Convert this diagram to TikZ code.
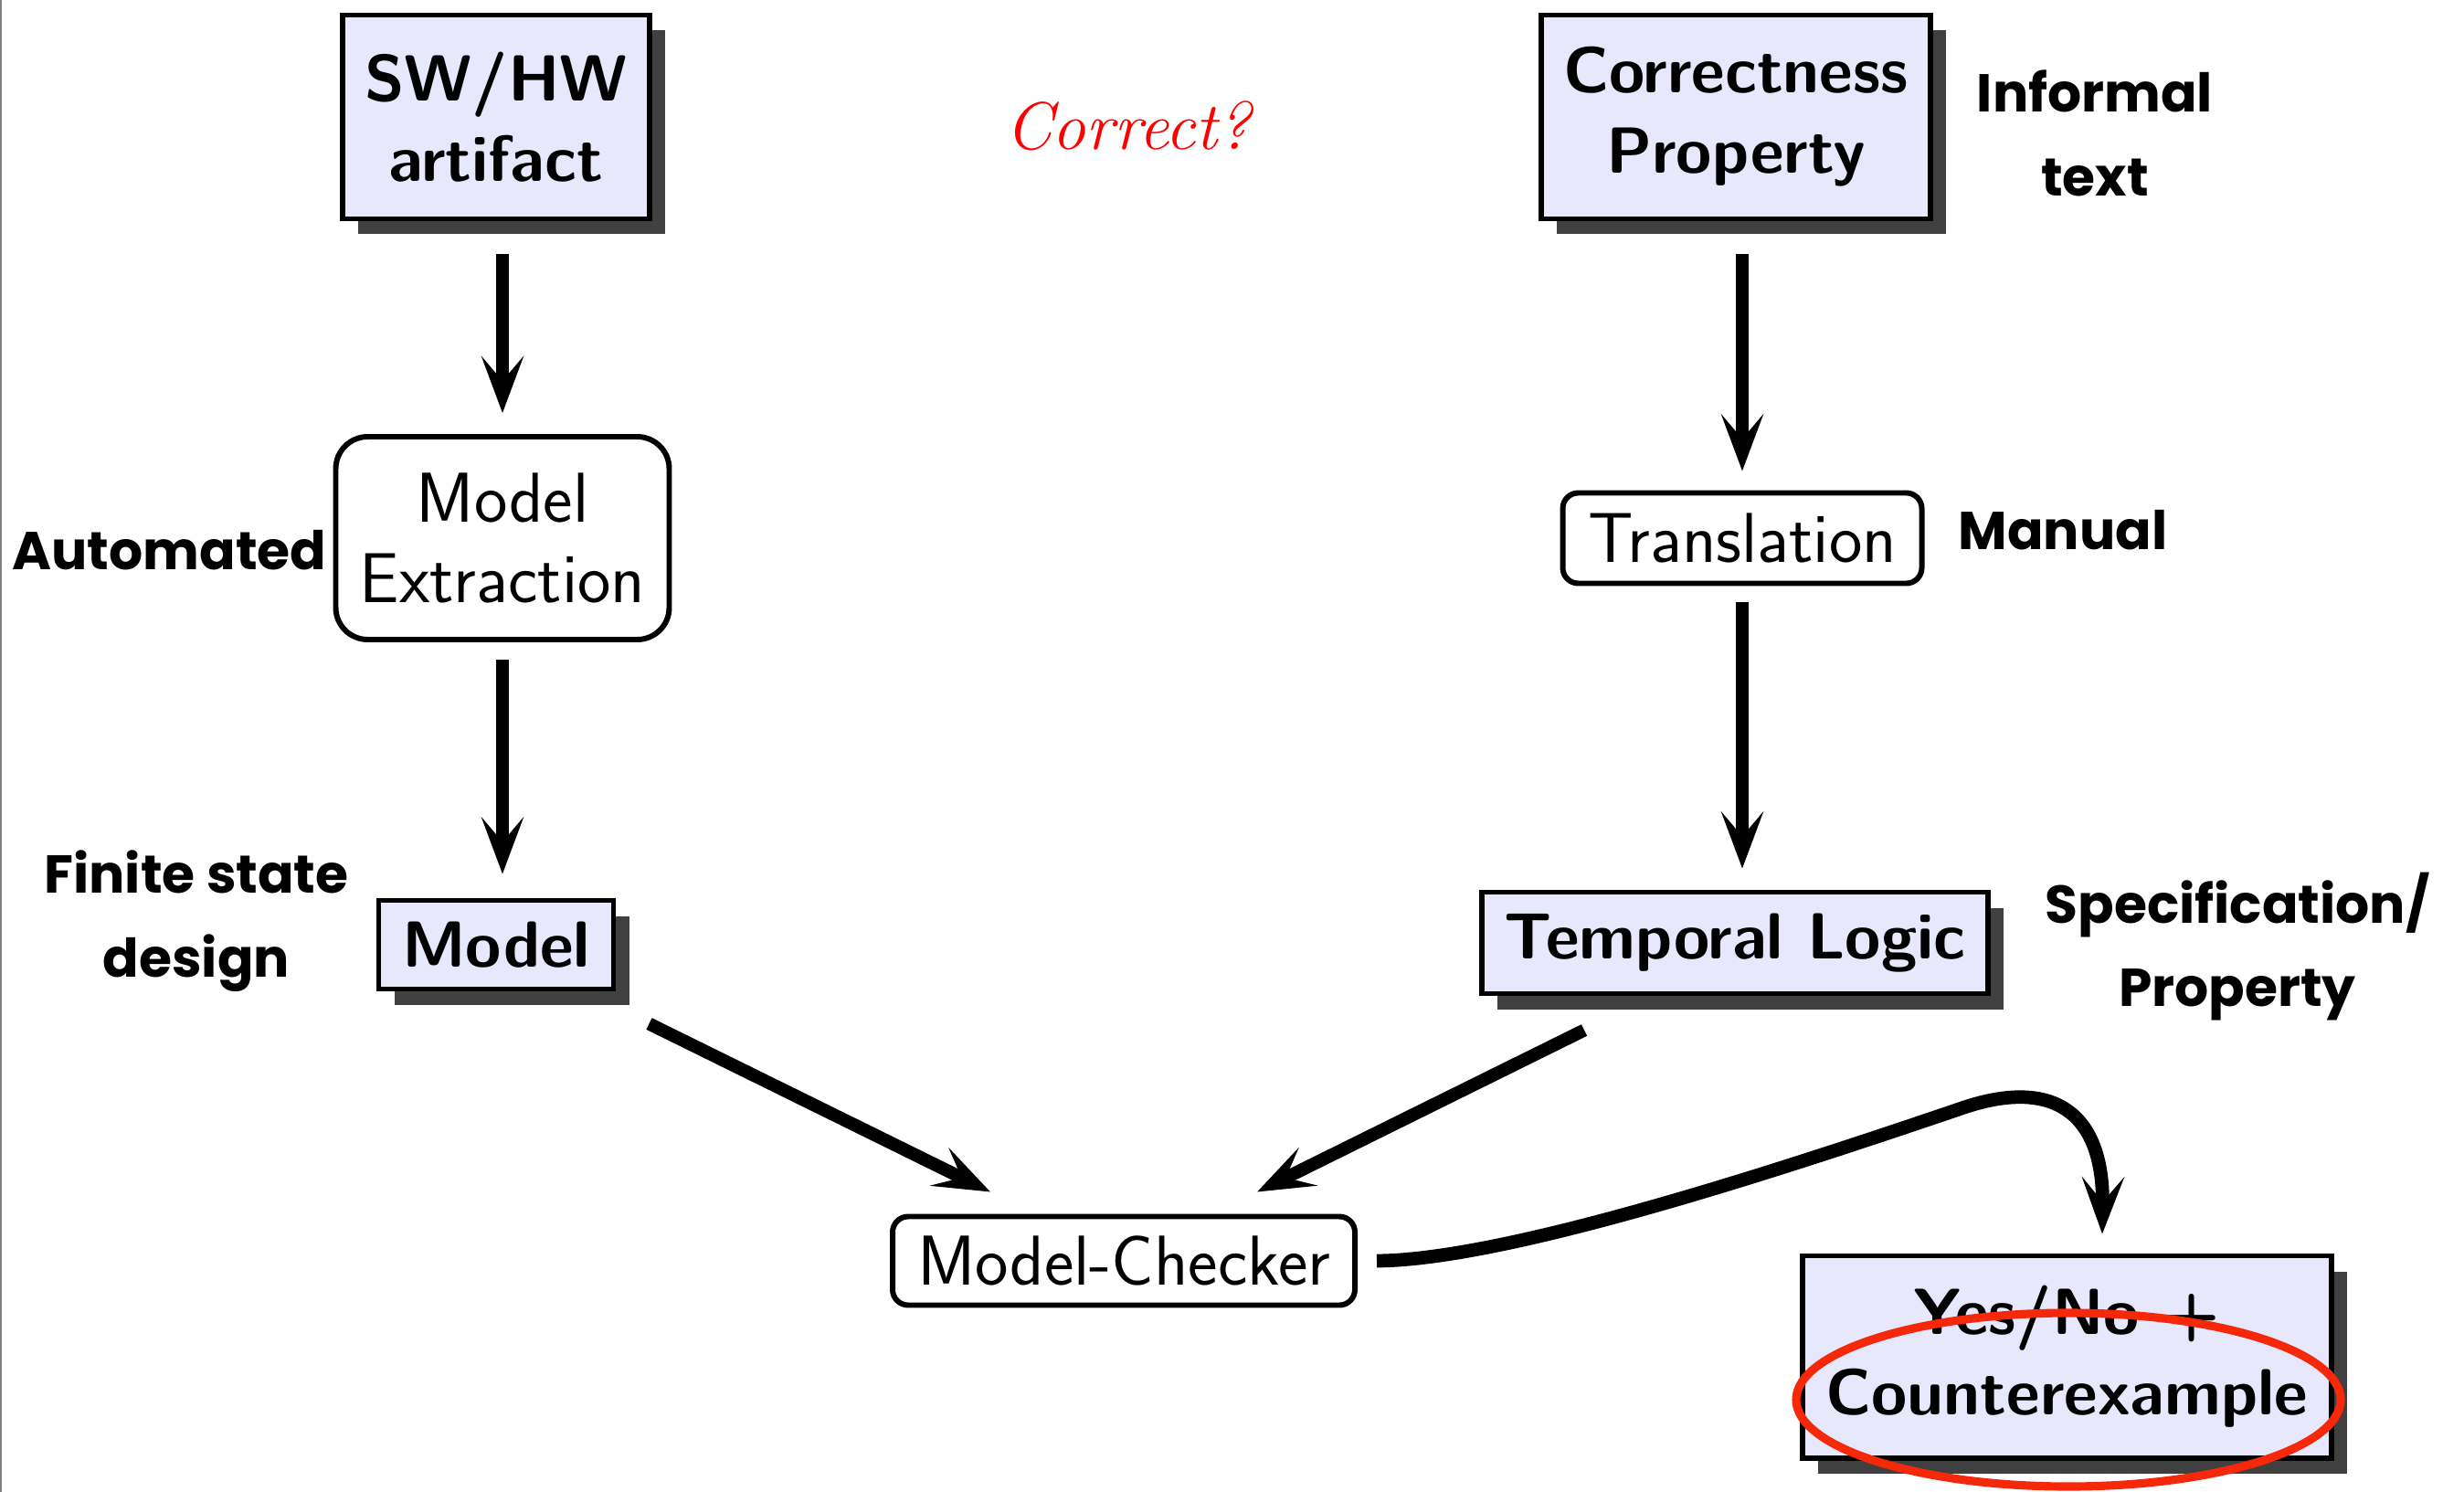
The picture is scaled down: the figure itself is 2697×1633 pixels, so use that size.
\documentclass[tikz,border=0pt]{standalone}
\usepackage{fontspec}
\newfontfamily\comic{Poppins}
\usetikzlibrary{arrows.meta,calc,shadows,shapes.geometric}
\definecolor{boxfill}{RGB}{232,232,252}
\definecolor{shadowgray}{RGB}{64,64,64}
\definecolor{hlred}{RGB}{245,40,10}
\tikzset{
  shbox/.style={draw=black, line width=1.7pt, fill=boxfill,
    copy shadow={shadow xshift=1.7mm, shadow yshift=-1.7mm, fill=shadowgray, draw=none},
    font=\sffamily\bfseries\fontsize{20.3}{25}\selectfont, align=center, inner sep=0pt},
  rbox/.style={draw=black, line width=1.7pt, fill=white,
    font=\sffamily\fontsize{22}{25}\selectfont, align=center, inner sep=0pt},
  arr/.style={line width=4pt, -{Stealth[length=6.2mm,width=4.6mm,inset=2.7mm]}},
  side/.style={font=\comic\bfseries\fontsize{16.6}{26}\selectfont, align=center, inner sep=0pt}
}
\begin{document}
\begin{tikzpicture}[x=0.1mm,y=-0.1mm]
\useasboundingbox (0,0) rectangle (2697,1633);
\draw[gray, line width=0.3mm] (1,0) -- (1,1633);

\node[shbox, minimum width=33.6mm, minimum height=22.3mm] (sw) at (543,128) {SW/HW\\artifact};
\node[shbox, minimum width=42.6mm, minimum height=22.3mm] (cp) at (1900,128) {Correctness\\Property};
\node[rbox, rounded corners=3.5mm, minimum width=36.5mm, minimum height=22.2mm] (me) at (550,589) {Model\\Extraction};
\node[shbox, minimum width=25.7mm, minimum height=9.7mm] (model) at (543,1034) {Model};
\node[rbox, rounded corners=1.7mm, minimum width=39.3mm, minimum height=9.9mm] (tr) at (1907,589) {Translation};
\node[shbox, minimum width=55.4mm, minimum height=11.1mm] (tl) at (1899,1032) {Temporal Logic};
\node[rbox, rounded corners=1.7mm, minimum width=50.6mm, minimum height=9.7mm] (mc) at (1230,1380) {Model-Checker};
\node[shbox, minimum width=57.9mm, minimum height=22.1mm] (yes) at (2262,1485) {Yes/No +\\Counterexample};

\node[text=red, font=\rmfamily\itshape\fontsize{21}{25}\selectfont] (q) at (1235,138) {Correct?};

\node[side] (inf) at (2293,146) {Informal\\text};
\node[side] (man) at (2258,580) {Manual};
\node[side, anchor=east] (aut) at (358,602) {Automated};
\node[side] (fsd) at (215,1008) {Finite state\\design};
\node[side] (spec) at (2449,1036) {Specification/\\Property};

\draw[arr, shorten <=3.6mm, shorten >=2.3mm] (me.north |- sw.south) -- (me.north);
\draw[arr, shorten <=1.9mm, shorten >=2.6mm] (me.south) -- (me.south |- model.north);
\draw[arr, shorten <=3.6mm, shorten >=2.1mm] (tr.north |- cp.south) -- (tr.north);
\draw[arr, shorten <=1.8mm, shorten >=2.3mm] (tr.south) -- (tr.south |- tl.north);
\draw[arr] ($(model.south east)+(36,35)$) -- ($(mc.north)+(-146,-24)$);
\draw[arr] ($(tl.south)+(-165,37)$) -- ($(mc.north)+(146,-24)$);
\draw[arr, line width=4.2pt] ($(mc.east)+(21,0)$) .. controls (1650,1379) and (1950,1280) .. (2150,1212)
   .. controls (2240,1182) and (2303,1210) .. ($(yes.north)+(39,-21)$);

\node[draw=hlred, line width=2.6pt, ellipse, minimum width=59.6mm, minimum height=19mm, inner sep=0pt] (hl) at (2264,1532) {};
\end{tikzpicture}
\end{document}
